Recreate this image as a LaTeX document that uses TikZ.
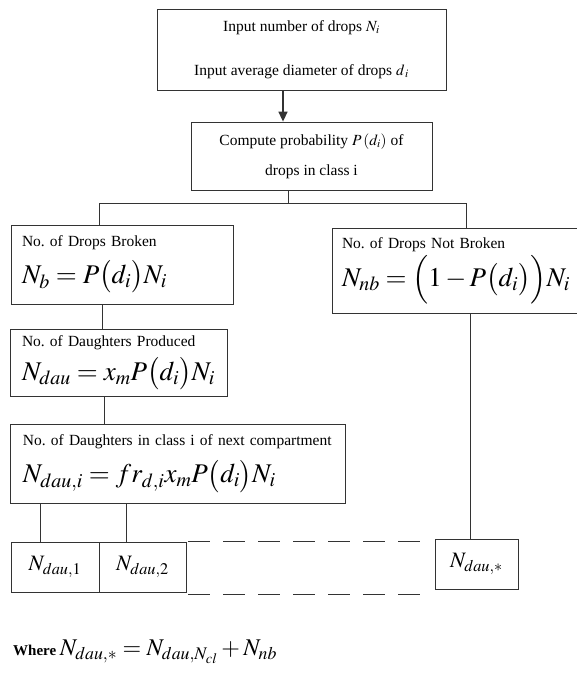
\documentclass[tikz,border=0pt]{standalone}
\usepackage{mathptmx}
\usepackage{fontspec}
\setmainfont{Liberation Serif}
\usepackage{tikz}
\usetikzlibrary{positioning,arrows.meta}
\definecolor{edge}{HTML}{333333}
\newcommand{\fml}{\fontsize{27}{30}\selectfont}
\newcommand{\cellfml}{\fontsize{22}{24}\selectfont}
\frenchspacing
\tikzset{
  stagebox/.style={draw=edge, line width=0.8pt, inner sep=0pt, align=left},
  link/.style={draw=edge, line width=0.7pt},
}

\begin{document}
\begin{tikzpicture}[x=1pt, y=-1pt, font=\fontsize{15.5}{18}\selectfont]
  \useasboundingbox (0,0) rectangle (577,673);
  % input and probability
  \node[stagebox, minimum width=289pt, minimum height=81pt, align=center] (input) at (301.5,49.5)
    {Input number of drops $N_i$\\[26pt] Input average diameter of drops $d_{\,i}$};
  \node[stagebox, minimum width=241pt, minimum height=68pt, align=center] (comp) at (311.5,156)
    {Compute probability $P\left(d_i\right)$ of\\[12pt] drops in class i};
  % broken / not broken
  \node[stagebox, minimum width=222pt, minimum height=79pt, text width=200pt] (broken) at (122,264.5)
    {No. of Drops Broken\\[10pt] {\fml $N_b = P\bigl(d_i\bigr)N_i$}};
  \node[stagebox, minimum width=248pt, minimum height=85pt, text width=228pt] (notbroken) at (456,270.5)
    {No. of Drops Not Broken\\[3pt] {\fml $N_{nb} = \Bigl(1 - P\bigl(d_i\bigr)\Bigr)N_i$}};
  \node[stagebox, minimum width=217pt, minimum height=67pt, text width=193pt] (produced) at (118.5,362.5)
    {No. of Daughters Produced\\[7pt] {\fml $N_{dau} = x_m P\bigl(d_i\bigr)N_i$}};
  \node[stagebox, minimum width=335pt, minimum height=79pt, text width=309pt] (classi) at (177.5,463.5)
    {\mbox{No. of Daughters in class i of next compartment}\\[10pt] {\fml $N_{dau,i} = fr_{d,i}x_m P\bigl(d_i\bigr)N_i$}};
  % daughter cells
  \node[stagebox, minimum width=88pt, minimum height=50pt, align=center] (dauA) at (55,567) {\cellfml $N_{dau,1}$};
  \node[stagebox, minimum width=87pt, minimum height=50pt, align=center] (dauB) at (142.5,567) {\cellfml $N_{dau,2}$};
  \node[stagebox, minimum width=83pt, minimum height=50pt, align=center] (dauS) at (476.5,564) {\cellfml $N_{dau,*}$};
  \node[anchor=west, inner sep=0pt] (where) at (13,652)
    {\fontsize{15}{17}\selectfont\bfseries Where \fontsize{24}{26}\selectfont\mdseries $N_{dau,*} = N_{dau,N_{cl}} + N_{nb}$};

  % connectors
  \draw[link, line width=1.5pt, -{Triangle[length=10pt,width=9pt]}]
    ([xshift=-18.5pt]input.south) -- ([xshift=-18.5pt]input.south |- comp.north);
  \coordinate (fork) at (288,203);
  \coordinate (forkL) at (99,203);
  \coordinate (forkR) at (466,203);
  \draw[link] (fork |- comp.south) -- (fork);
  \draw[link] (forkL |- broken.north) -- (forkL) -- (forkR) -- (forkR |- notbroken.north);
  \draw[link] ([xshift=-20pt]broken.south) -- ([xshift=-20pt]broken.south |- produced.north);
  \draw[link] ([xshift=-14.5pt]produced.south) -- ([xshift=-14.5pt]produced.south |- classi.north);
  \draw[link] ([xshift=-15pt]dauA.north |- classi.south) -- ([xshift=-15pt]dauA.north);
  \draw[link] ([xshift=-16.5pt]dauB.north |- classi.south) -- ([xshift=-16.5pt]dauB.north);
  \draw[link] ([xshift=-6.5pt]dauS.north |- notbroken.south) -- ([xshift=-6.5pt]dauS.north);
  % dashed continuation
  \draw[link, dash pattern=on 22pt off 13pt]
    ([xshift=2pt]dauB.north east) -- ([xshift=-5pt]dauS.west |- dauB.north east);
  \draw[link, dash pattern=on 22pt off 13pt]
    ([xshift=2pt,yshift=-2pt]dauB.south east) -- ([xshift=-13pt,yshift=-2pt]dauS.west |- dauB.south east);
\end{tikzpicture}
\end{document}
